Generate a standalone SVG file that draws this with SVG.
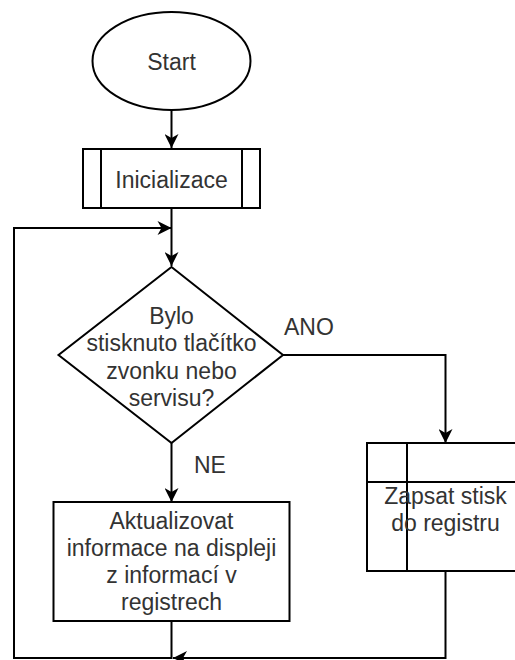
<svg xmlns="http://www.w3.org/2000/svg" width="515" height="660" viewBox="0 0 515 660">
  <style>
    .shape { fill: #ffffff; stroke: #000000; stroke-width: 2; }
    .inner { fill: none; stroke: #000000; stroke-width: 2; }
    .edge { fill: none; stroke: #000000; stroke-width: 2; }
    .label { font-family: "Liberation Sans", Arial, sans-serif; font-size: 23px; fill: #333333; text-anchor: middle; }
    .edge-label { font-family: "Liberation Sans", Arial, sans-serif; font-size: 23px; fill: #333333; }
  </style>
  <defs>
    <marker id="arrow" viewBox="0 0 16 14" refX="15" refY="7" markerWidth="16" markerHeight="14" markerUnits="userSpaceOnUse" orient="auto">
      <path d="M1,0 L15,7 L1,14 L5,7 Z" fill="#000000"/>
    </marker>
  </defs>
  <rect width="515" height="660" fill="#ffffff"/>

  <g id="connectors">
    <path class="edge" d="M171.5,110 L171.5,148" marker-end="url(#arrow)"/>
    <path class="edge" d="M171.5,208 L171.5,266" marker-end="url(#arrow)"/>
    <path class="edge" d="M171.5,621 L171.5,658 L14,658 L14,228 L171.5,228" marker-end="url(#arrow)"/>
    <path class="edge" d="M283,355 L445.5,355 L445.5,443" marker-end="url(#arrow)"/>
    <path class="edge" d="M171.5,443 L171.5,502" marker-end="url(#arrow)"/>
    <path class="edge" d="M445.5,571 L445.5,658 L173,658" marker-end="url(#arrow)"/>
    <text class="edge-label" x="284" y="335">ANO</text>
    <text class="edge-label" x="194" y="473">NE</text>
  </g>

  <g id="start">
    <ellipse class="shape" cx="171.5" cy="61" rx="79" ry="49"/>
    <text class="label" x="171.5" y="70">Start</text>
  </g>

  <g id="inicializace">
    <rect class="shape" x="83" y="149" width="177" height="59"/>
    <line class="inner" x1="101" y1="149" x2="101" y2="208"/>
    <line class="inner" x1="242" y1="149" x2="242" y2="208"/>
    <text class="label" x="171.5" y="188">Inicializace</text>
  </g>

  <g id="rozhodnuti">
    <polygon class="shape" points="171.5,267 283,355 171.5,443 58.5,355"/>
    <text class="label" x="171.5" y="323.5">Bylo</text>
    <text class="label" x="171.5" y="351">stisknuto tlačítko</text>
    <text class="label" x="171.5" y="378.5">zvonku nebo</text>
    <text class="label" x="171.5" y="406">servisu?</text>
  </g>

  <g id="aktualizovat">
    <rect class="shape" x="53.5" y="502" width="236" height="119"/>
    <text class="label" x="171.5" y="529">Aktualizovat</text>
    <text class="label" x="171.5" y="556">informace na displeji</text>
    <text class="label" x="171.5" y="583">z informací v</text>
    <text class="label" x="171.5" y="610">registrech</text>
  </g>

  <g id="zapsat">
    <rect class="shape" x="367" y="443" width="157" height="128"/>
    <line class="inner" x1="407" y1="443" x2="407" y2="571"/>
    <line class="inner" x1="367" y1="482" x2="524" y2="482"/>
    <text class="label" x="445.5" y="504">Zapsat stisk</text>
    <text class="label" x="445.5" y="531">do registru</text>
  </g>
</svg>
